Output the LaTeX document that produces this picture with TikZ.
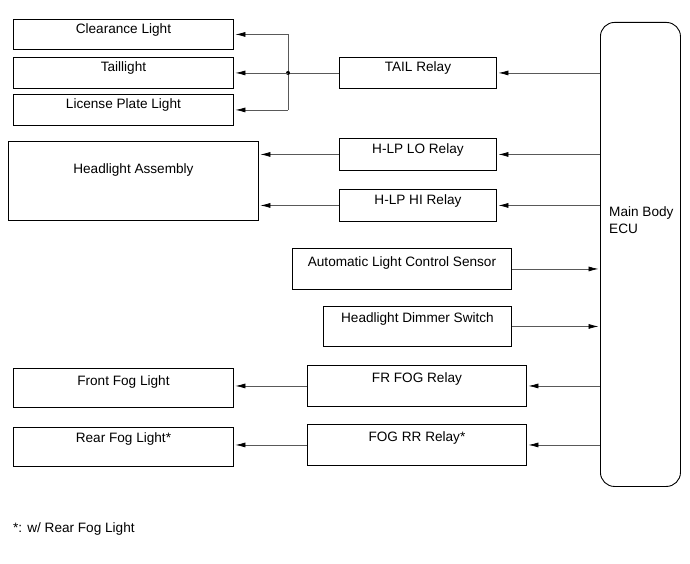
\documentclass[tikz,border=0pt]{standalone}
\usepackage{fontspec}
\setmainfont{Liberation Sans}
\usetikzlibrary{arrows.meta}
\begin{document}
\begin{tikzpicture}[x=1pt,y=-1pt,
  box/.style={draw=black,line width=0.9pt,anchor=north west,inner sep=0pt,fill=white},
  txt/.style={font=\fontsize{13.6}{16}\selectfont,inner sep=0pt},
  wire/.style={draw=black!65,line width=0.7pt},
  arr/.style={wire,-{Latex[length=10pt,width=5pt,black]},shorten >=1.5pt}]
\useasboundingbox (0,0) rectangle (690,564);
% ECU
\node[box,minimum width=80pt,minimum height=464pt,rounded corners=14pt] (ecu) at (600,22) {};
\node[txt,anchor=west,align=left] (ecut) at (609,220) {Main Body\\[1pt]ECU};
% left lights
\node[box,minimum width=220pt,minimum height=30pt] (clear) at (13,19) {};
\node[txt] (cleart) at (clear.north |- 0,30) {Clearance Light};
\node[box,minimum width=220pt,minimum height=31pt] (tl) at (13,57) {};
\node[txt] (tlt) at (tl.north |- 0,68) {Taillight};
\node[box,minimum width=220pt,minimum height=31pt] (lic) at (13,94) {};
\node[txt] (lict) at (lic.north |- 0,105) {License Plate Light};
\node[box,minimum width=250pt,minimum height=79pt] (hla) at (8,141) {};
\node[txt] (hlat) at (hla.north |- 0,170) {Headlight Assembly};
\node[box,minimum width=220pt,minimum height=39pt] (ffl) at (13,368) {};
\node[txt] (fflt) at (ffl.north |- 0,382) {Front Fog Light};
\node[box,minimum width=220pt,minimum height=39pt] (rfl) at (13,427) {};
\node[txt] (rflt) at (rfl.north |- 0,439) {Rear Fog Light*};
% relays
\node[box,minimum width=157pt,minimum height=31pt] (tail) at (339,57) {};
\node[txt] (tailt) at (tail.north |- 0,68) {TAIL Relay};
\node[box,minimum width=157pt,minimum height=32pt] (lo) at (339,138) {};
\node[txt] (lot) at (lo.north |- 0,150) {H-LP LO Relay};
\node[box,minimum width=157pt,minimum height=32pt] (hi) at (339,189) {};
\node[txt] (hit) at (hi.north |- 0,201) {H-LP HI Relay};
\node[box,minimum width=219pt,minimum height=41pt] (als) at (292,248) {};
\node[txt] (alst) at (als.north |- 0,263) {Automatic Light Control Sensor};
\node[box,minimum width=188pt,minimum height=40pt] (hds) at (323,306) {};
\node[txt] (hdst) at (hds.north |- 0,319) {Headlight Dimmer Switch};
\node[box,minimum width=219pt,minimum height=41pt] (frf) at (307,365) {};
\node[txt] (frft) at (frf.north |- 0,379) {FR FOG Relay};
\node[box,minimum width=219pt,minimum height=41pt] (rrf) at (307,424) {};
\node[txt] (rrft) at (rrf.north |- 0,438) {FOG RR Relay*};
% footnote
\node[txt,anchor=west] (note) at (13,529) {*: w/ Rear Fog Light};
% connectors: ECU to relays
\draw[arr] (ecu.west |- tail.east) -- (tail.east);
\draw[arr] (ecu.west |- lo.east) -- (lo.east);
\draw[arr] (ecu.west |- hi.east) -- (hi.east);
\draw[arr] (ecu.west |- frf.east) -- (frf.east);
\draw[arr] (ecu.west |- rrf.east) -- (rrf.east);
% inputs to ECU
\draw[arr] (als.east) -- (ecu.west |- als.east);
\draw[arr] (hds.east) -- (ecu.west |- hds.east);
% tail relay branches
\coordinate (j) at (288,0 |- tail.west);
\coordinate (jt) at (288,0 |- clear.east);
\coordinate (jb) at (288,0 |- lic.east);
\draw[wire] (tail.west) -- (j);
\draw[wire] (jt) -- (jb);
\fill (j) circle (2pt);
\draw[arr] (jt) -- (clear.east);
\draw[arr] (j) -- (tl.east);
\draw[arr] (jb) -- (lic.east);
% relays to loads
\draw[arr] (lo.west) -- (hla.east |- lo.west);
\draw[arr] (hi.west) -- (hla.east |- hi.west);
\draw[arr] (frf.west) -- (ffl.east |- frf.west);
\draw[arr] (rrf.west) -- (rfl.east |- rrf.west);
\end{tikzpicture}
\end{document}
